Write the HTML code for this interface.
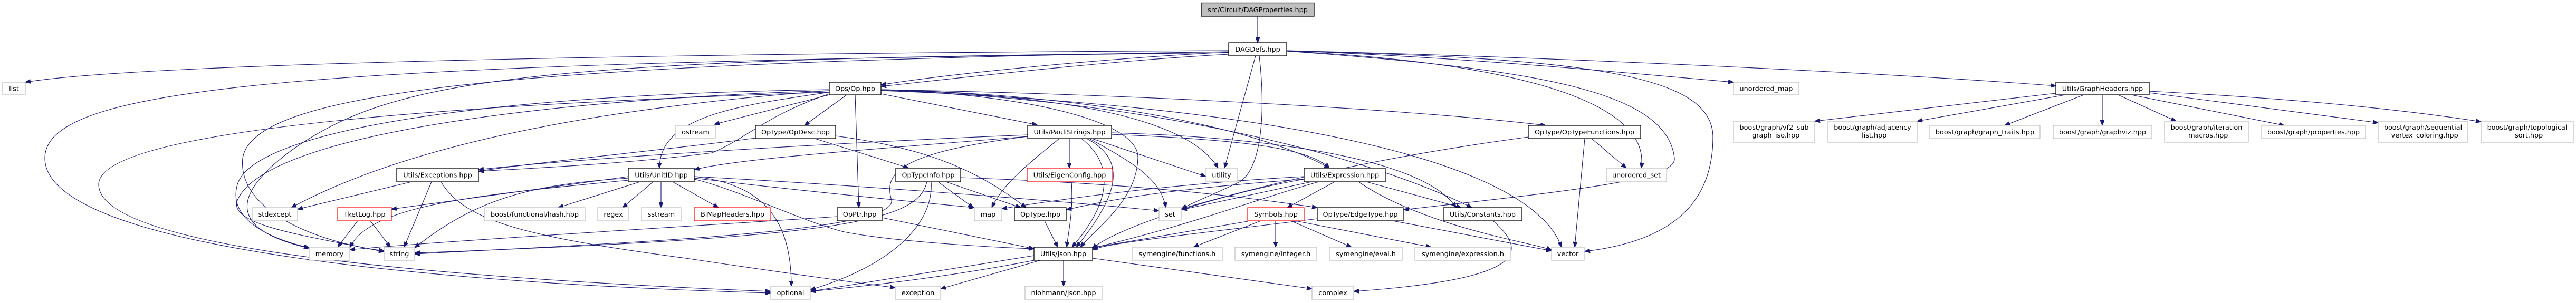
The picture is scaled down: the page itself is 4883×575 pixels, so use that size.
<!DOCTYPE html>
<html><head><meta charset="utf-8"><style>
html,body{margin:0;padding:0;background:#fff;}
svg{display:block;}
text{font-family:"DejaVu Sans","Liberation Sans",sans-serif;font-size:12.8px;fill:#000;text-anchor:middle;}
.e{fill:none;stroke:#191970;stroke-width:1.1;marker-end:url(#a);}
.b{fill:#fff;stroke:#000;stroke-width:1.3;}
.g{fill:#fff;stroke:#bfbfbf;stroke-width:1.2;}
.r{fill:#fff;stroke:#ff0000;stroke-width:1.2;}
</style></head><body>
<svg width="4883" height="575" viewBox="0 0 4883 575" xmlns="http://www.w3.org/2000/svg">
<defs><marker id="a" markerUnits="userSpaceOnUse" markerWidth="11" markerHeight="8" refX="10" refY="4" orient="auto"><path d="M0,0 L10,4 L0,8 z" fill="#191970" stroke="#191970"/></marker></defs>
<g>
<path class="e" d="M2384,31 L2384,81"/>
<path class="e" d="M2329,96 C1500,100 300,115 48,156"/>
<path class="e" d="M2329,100 C600,120 85,160 85,300 C85,480 900,540 1461,556"/>
<path class="e" d="M1572,175 C800,200 187,250 187,350 C187,480 900,530 1461,553"/>
<path class="e" d="M2329,100 C1000,110 750,150 560,280 C420,380 450,440 586,471"/>
<path class="e" d="M2329,98 C1000,120 480,170 460,300 C450,400 600,460 728,476"/>
<path class="e" d="M2329,99 C2100,110 1800,140 1670,161"/>
<path class="e" d="M2329,103 C2100,115 1800,150 1670,164"/>
<path class="e" d="M2439,96 C2800,110 3100,140 3286,156"/>
<path class="e" d="M2439,96 C3000,110 3600,140 3897,163"/>
<path class="e" d="M2380,106 L2321,319"/>
<path class="e" d="M2387,106 C2400,220 2390,320 2350,345 C2310,365 2270,380 2240,396"/>
<path class="e" d="M2439,97 C3000,110 3247,140 3247,260 C3247,400 3150,460 3004,477"/>
<path class="e" d="M2439,97 C2900,120 3130,200 3111,319"/>
<path class="e" d="M2439,97 C2900,130 3160,170 3174,300 C3180,340 3000,360 2661,398"/>
<path class="e" d="M1670,178 L1966,237"/>
<path class="e" d="M1670,170 C2200,180 2700,210 2930,238"/>
<path class="e" d="M1670,170 C2100,180 2400,250 2520,319"/>
<path class="e" d="M1670,171 C2200,190 2600,300 2790,394"/>
<path class="e" d="M1670,172 C2400,200 2900,300 2960,469"/>
<path class="e" d="M1670,170 C2000,180 2250,220 2309,319"/>
<path class="e" d="M1670,170 C1950,180 2160,230 2157,300 C2155,380 2080,430 2048,469"/>
<path class="e" d="M1621,180 L1628,394"/>
<path class="e" d="M1572,180 L1354,236"/>
<path class="e" d="M1605,180 L1525,238"/>
<path class="e" d="M1572,175 C1400,200 1250,220 1250,319"/>
<path class="e" d="M1572,178 C1450,220 1420,260 1350,290 C1200,310 1000,320 907,325"/>
<path class="e" d="M1572,172 C1200,200 800,260 552,394"/>
<path class="e" d="M1572,172 C1000,190 500,260 450,380 C430,430 600,450 728,478"/>
<path class="e" d="M1572,170 C900,180 480,250 450,350 C430,420 520,455 586,470"/>
<path class="e" d="M1545,263 L1723,319"/>
<path class="e" d="M1584,258 C1750,280 1850,320 1945,394"/>
<path class="e" d="M1432,262 C1300,280 1000,310 907,325"/>
<path class="e" d="M1948,256 C1600,270 1100,300 907,322"/>
<path class="e" d="M1948,259 C1700,280 1400,300 1316,322"/>
<path class="e" d="M2027,263 L2027,319"/>
<path class="e" d="M2008,263 C1950,310 1900,350 1880,394"/>
<path class="e" d="M2060,263 C2130,300 2130,360 2040,469"/>
<path class="e" d="M2050,263 C2110,310 2110,380 2032,469"/>
<path class="e" d="M2065,263 C2150,310 2200,340 2210,394"/>
<path class="e" d="M2070,263 L2286,335"/>
<path class="e" d="M2107,252 C2400,260 2700,300 2760,394"/>
<path class="e" d="M2107,255 C2350,265 2480,280 2520,319"/>
<path class="e" d="M1948,259 C1700,290 1675,330 1690,380 C1700,440 1200,460 786,482"/>
<path class="e" d="M1778,345 L1845,394"/>
<path class="e" d="M1793,345 L1935,394"/>
<path class="e" d="M1821,337 C2200,350 2400,380 2497,394"/>
<path class="e" d="M1757,345 C1740,420 1600,450 786,480"/>
<path class="e" d="M1765,345 C1770,420 1700,500 1536,550"/>
<path class="e" d="M2031,345 C2035,400 2025,440 2022,469"/>
<path class="e" d="M1213,345 L1058,394"/>
<path class="e" d="M1238,345 L1180,394"/>
<path class="e" d="M1253,345 L1253,394"/>
<path class="e" d="M1275,345 L1362,394"/>
<path class="e" d="M1191,335 L742,397"/>
<path class="e" d="M1316,335 C1450,350 1500,420 1500,543"/>
<path class="e" d="M1316,340 C1400,360 1520,420 1600,440 C1700,460 1900,470 1960,472"/>
<path class="e" d="M1191,338 C1000,350 900,380 786,470"/>
<path class="e" d="M1191,342 C900,370 700,390 663,470"/>
<path class="e" d="M1316,338 C1500,360 1700,380 1847,394"/>
<path class="e" d="M1316,335 C1600,350 2000,380 2197,400"/>
<path class="e" d="M780,345 L564,397"/>
<path class="e" d="M818,345 L766,469"/>
<path class="e" d="M836,345 C880,420 1000,450 1300,490 C1500,520 1650,540 1697,546"/>
<path class="e" d="M678,419 L640,469"/>
<path class="e" d="M702,419 L740,469"/>
<path class="e" d="M1672,413 L1960,472"/>
<path class="e" d="M1587,411 C1300,430 800,460 663,474"/>
<path class="e" d="M1980,419 L2005,469"/>
<path class="e" d="M2530,345 L2440,394"/>
<path class="e" d="M2590,345 L2770,394"/>
<path class="e" d="M2575,345 C2700,430 2900,460 2941,474"/>
<path class="e" d="M2472,340 C2300,370 2100,440 2071,472"/>
<path class="e" d="M2486,345 L2240,398"/>
<path class="e" d="M2472,335 C2200,350 2000,380 1899,396"/>
<path class="e" d="M2472,340 C2200,360 2100,380 2021,398"/>
<path class="e" d="M2500,345 C2300,400 2100,500 1536,553"/>
<path class="e" d="M2390,419 L2262,469"/>
<path class="e" d="M2418,419 L2418,469"/>
<path class="e" d="M2447,419 L2562,469"/>
<path class="e" d="M2455,419 L2713,469"/>
<path class="e" d="M2365,420 L2071,470"/>
<path class="e" d="M2640,419 L2941,476"/>
<path class="e" d="M2497,415 C2300,440 2100,460 2071,474"/>
<path class="e" d="M2830,419 C2900,480 2890,530 2566,553"/>
<path class="e" d="M1960,485 L1536,553"/>
<path class="e" d="M1972,494 L1783,548"/>
<path class="e" d="M2016,494 L2016,543"/>
<path class="e" d="M2071,490 L2487,548"/>
<path class="e" d="M3004,263 L2985,469"/>
<path class="e" d="M3017,263 L3083,319"/>
<path class="e" d="M2897,260 C2600,300 2400,350 2240,396"/>
<path class="e" d="M3897,177 L3440,230"/>
<path class="e" d="M3915,180 L3634,230"/>
<path class="e" d="M3950,180 L3800,238"/>
<path class="e" d="M3985,180 L3985,238"/>
<path class="e" d="M4015,180 L4125,230"/>
<path class="e" d="M4040,180 L4330,238"/>
<path class="e" d="M4074,176 L4508,233"/>
<path class="e" d="M4074,173 C4300,185 4500,200 4703,231"/>
</g>
<g>
<rect x="2277" y="5.5" width="214" height="25.5" fill="#bfbfbf" stroke="#000" stroke-width="1.3"/><text x="2384" y="23">src/Circuit/DAGProperties.hpp</text>
<rect class="b" x="2329" y="81" width="110" height="25"/><text x="2384" y="98">DAGDefs.hpp</text>
<rect class="g" x="5" y="156" width="43" height="24"/><text x="26.5" y="172.5">list</text>
<rect class="b" x="1572" y="156" width="98" height="24"/><text x="1621" y="172.5">Ops/Op.hpp</text>
<rect class="g" x="3286" y="156" width="124" height="24"/><text x="3348" y="172.5">unordered_map</text>
<rect class="b" x="3897" y="156" width="177" height="24"/><text x="3985.5" y="172.5">Utils/GraphHeaders.hpp</text>
<rect class="g" x="1281" y="238" width="75" height="25"/><text x="1318.5" y="255">ostream</text>
<rect class="b" x="1432" y="238" width="152" height="25"/><text x="1508" y="255">OpType/OpDesc.hpp</text>
<rect class="b" x="1948" y="238" width="159" height="25"/><text x="2027.5" y="255">Utils/PauliStrings.hpp</text>
<rect class="b" x="2897" y="238" width="213" height="25"/><text x="3003.5" y="255">OpType/OpTypeFunctions.hpp</text>
<rect class="g" x="3286" y="230" width="154" height="40"/><text x="3363" y="246">boost/graph/vf2_sub</text><text x="3363" y="261">_graph_iso.hpp</text>
<rect class="g" x="3465" y="230" width="169" height="40"/><text x="3549.5" y="246">boost/graph/adjacency</text><text x="3549.5" y="261">_list.hpp</text>
<rect class="g" x="3658" y="238" width="209" height="25"/><text x="3762.5" y="255">boost/graph/graph_traits.hpp</text>
<rect class="g" x="3892" y="238" width="187" height="25"/><text x="3985.5" y="255">boost/graph/graphviz.hpp</text>
<rect class="g" x="4103" y="230" width="159" height="40"/><text x="4182.5" y="246">boost/graph/iteration</text><text x="4182.5" y="261">_macros.hpp</text>
<rect class="g" x="4287" y="238" width="197" height="25"/><text x="4385.5" y="255">boost/graph/properties.hpp</text>
<rect class="g" x="4508" y="230" width="170" height="40"/><text x="4593" y="246">boost/graph/sequential</text><text x="4593" y="261">_vertex_coloring.hpp</text>
<rect class="g" x="4703" y="230" width="175" height="40"/><text x="4790.5" y="246">boost/graph/topological</text><text x="4790.5" y="261">_sort.hpp</text>
<rect class="b" x="752" y="319" width="155" height="26"/><text x="829.5" y="336.5">Utils/Exceptions.hpp</text>
<rect class="b" x="1191" y="319" width="125" height="26"/><text x="1253.5" y="336.5">Utils/UnitID.hpp</text>
<rect class="b" x="1698" y="319" width="123" height="26"/><text x="1759.5" y="336.5">OpTypeInfo.hpp</text>
<rect class="r" x="1947" y="319" width="161" height="26"/><text x="2027.5" y="336.5">Utils/EigenConfig.hpp</text>
<rect class="g" x="2286" y="319" width="59" height="26"/><text x="2315.5" y="336.5">utility</text>
<rect class="b" x="2472" y="319" width="154" height="26"/><text x="2549" y="336.5">Utils/Expression.hpp</text>
<rect class="g" x="3045" y="319" width="114" height="26"/><text x="3102" y="336.5">unordered_set</text>
<rect class="g" x="478" y="394" width="86" height="25"/><text x="521" y="411">stdexcept</text>
<rect class="r" x="640" y="394" width="102" height="25"/><text x="691" y="411">TketLog.hpp</text>
<rect class="g" x="918" y="394" width="191" height="25"/><text x="1013.5" y="411">boost/functional/hash.hpp</text>
<rect class="g" x="1133" y="394" width="59" height="25"/><text x="1162.5" y="411">regex</text>
<rect class="g" x="1216" y="394" width="75" height="25"/><text x="1253.5" y="411">sstream</text>
<rect class="r" x="1316" y="394" width="145" height="25"/><text x="1388.5" y="411">BiMapHeaders.hpp</text>
<rect class="b" x="1587" y="394" width="85" height="25"/><text x="1629.5" y="411">OpPtr.hpp</text>
<rect class="g" x="1847" y="394" width="52" height="25"/><text x="1873" y="411">map</text>
<rect class="b" x="1923" y="394" width="98" height="25"/><text x="1972" y="411">OpType.hpp</text>
<rect class="g" x="2197" y="394" width="42" height="25"/><text x="2218" y="411">set</text>
<rect class="r" x="2365" y="394" width="107" height="25"/><text x="2418.5" y="411">Symbols.hpp</text>
<rect class="b" x="2497" y="394" width="163" height="25"/><text x="2578.5" y="411">OpType/EdgeType.hpp</text>
<rect class="b" x="2736" y="394" width="149" height="25"/><text x="2810.5" y="411">Utils/Constants.hpp</text>
<rect class="g" x="586" y="469" width="77" height="25"/><text x="624.5" y="486">memory</text>
<rect class="g" x="728" y="469" width="58" height="25"/><text x="757" y="486">string</text>
<rect class="b" x="1960" y="469" width="111" height="25"/><text x="2015.5" y="486">Utils/Json.hpp</text>
<rect class="g" x="2146" y="469" width="171" height="25"/><text x="2231.5" y="486">symengine/functions.h</text>
<rect class="g" x="2341" y="469" width="155" height="25"/><text x="2418.5" y="486">symengine/integer.h</text>
<rect class="g" x="2520" y="469" width="138" height="25"/><text x="2589" y="486">symengine/eval.h</text>
<rect class="g" x="2682" y="469" width="182" height="25"/><text x="2773" y="486">symengine/expression.h</text>
<rect class="g" x="2941" y="469" width="62" height="25"/><text x="2972" y="486">vector</text>
<rect class="g" x="1461" y="543" width="75" height="25"/><text x="1498.5" y="560">optional</text>
<rect class="g" x="1697" y="543" width="86" height="25"/><text x="1740" y="560">exception</text>
<rect class="g" x="1943" y="543" width="146" height="25"/><text x="2016" y="560">nlohmann/json.hpp</text>
<rect class="g" x="2487" y="543" width="79" height="25"/><text x="2526.5" y="560">complex</text>
</g>
</svg>
</body></html>
